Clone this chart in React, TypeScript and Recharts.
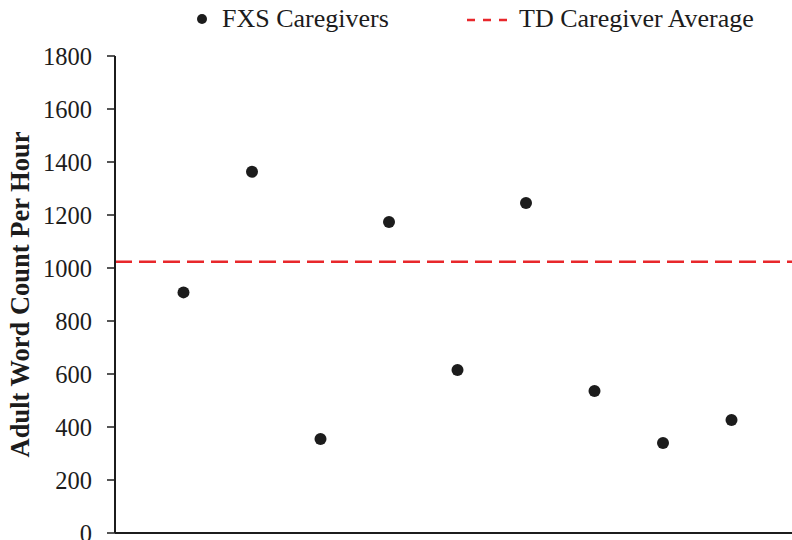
import { ReferenceLine, Scatter, ScatterChart, XAxis, YAxis } from 'recharts'

// participant slots along the x axis (no labels shown)
const participants = [1, 2, 3, 4, 5, 6, 7, 8, 9]
const wordsPerHour = [908, 1363, 355, 1174, 615, 1245, 536, 340, 426]
const tdAverage = 1024
const yTicks = [0, 200, 400, 600, 800, 1000, 1200, 1400, 1600, 1800]

const data = participants.map((x, i) => ({ x, y: wordsPerHour[i] }))

const ink = '#1c1c1c'
const red = '#e8272b'
const serif = '"Liberation Serif", "Times New Roman", serif'

function Dot(props: any) {
  return <circle cx={props.cx} cy={props.cy} r={6} fill={ink} />
}

function YTitle({ viewBox }: any) {
  const cx = 20
  const cy = viewBox.y + viewBox.height / 2
  return (
    <text
      x={cx}
      y={cy}
      transform={`rotate(-90 ${cx} ${cy})`}
      textAnchor="middle"
      dominantBaseline="central"
      fontFamily={serif}
      fontWeight="bold"
      fontSize={26.5}
      fill={ink}
    >
      Adult Word Count Per Hour
    </text>
  )
}

function LegendBar() {
  return (
    <svg width={792} height={40} style={{ position: 'absolute', left: 0, top: 0 }}>
      <circle cx={202} cy={19} r={5} fill={ink} />
      <text x={222} y={27} fontFamily={serif} fontSize={26} fill={ink}>
        FXS Caregivers
      </text>
      <line x1={467} x2={511} y1={20} y2={20} stroke={red} strokeWidth={2.5} strokeDasharray="8 8" />
      <text x={519} y={27} fontFamily={serif} fontSize={26} fill={ink}>
        TD Caregiver Average
      </text>
    </svg>
  )
}

export default function App() {
  return (
    <div
      style={{
        position: 'absolute',
        left: 0,
        top: 0,
        width: 792,
        height: 540,
        overflow: 'hidden',
        background: '#fff',
      }}
    >
      <ScatterChart width={800} height={540} margin={{ top: 56, right: 0, bottom: 6, left: 0 }}>
        <XAxis
          type="number"
          dataKey="x"
          domain={[0, 10]}
          height={1}
          tick={false}
          tickLine={false}
          axisLine={{ stroke: ink, strokeWidth: 2 }}
        />
        <YAxis
          type="number"
          dataKey="y"
          domain={[0, 1800]}
          ticks={yTicks}
          interval={0}
          width={115}
          tickSize={8}
          tickMargin={15}
          axisLine={{ stroke: ink, strokeWidth: 2 }}
          tickLine={{ stroke: ink, strokeWidth: 1.5 }}
          tick={{ fontSize: 24.5, fontFamily: serif, fill: ink }}
          label={<YTitle />}
        />
        <ReferenceLine y={tdAverage} stroke={red} strokeWidth={2.5} strokeDasharray="17 7" />
        <Scatter data={data} shape={<Dot />} isAnimationActive={false} />
      </ScatterChart>
      <LegendBar />
    </div>
  )
}
